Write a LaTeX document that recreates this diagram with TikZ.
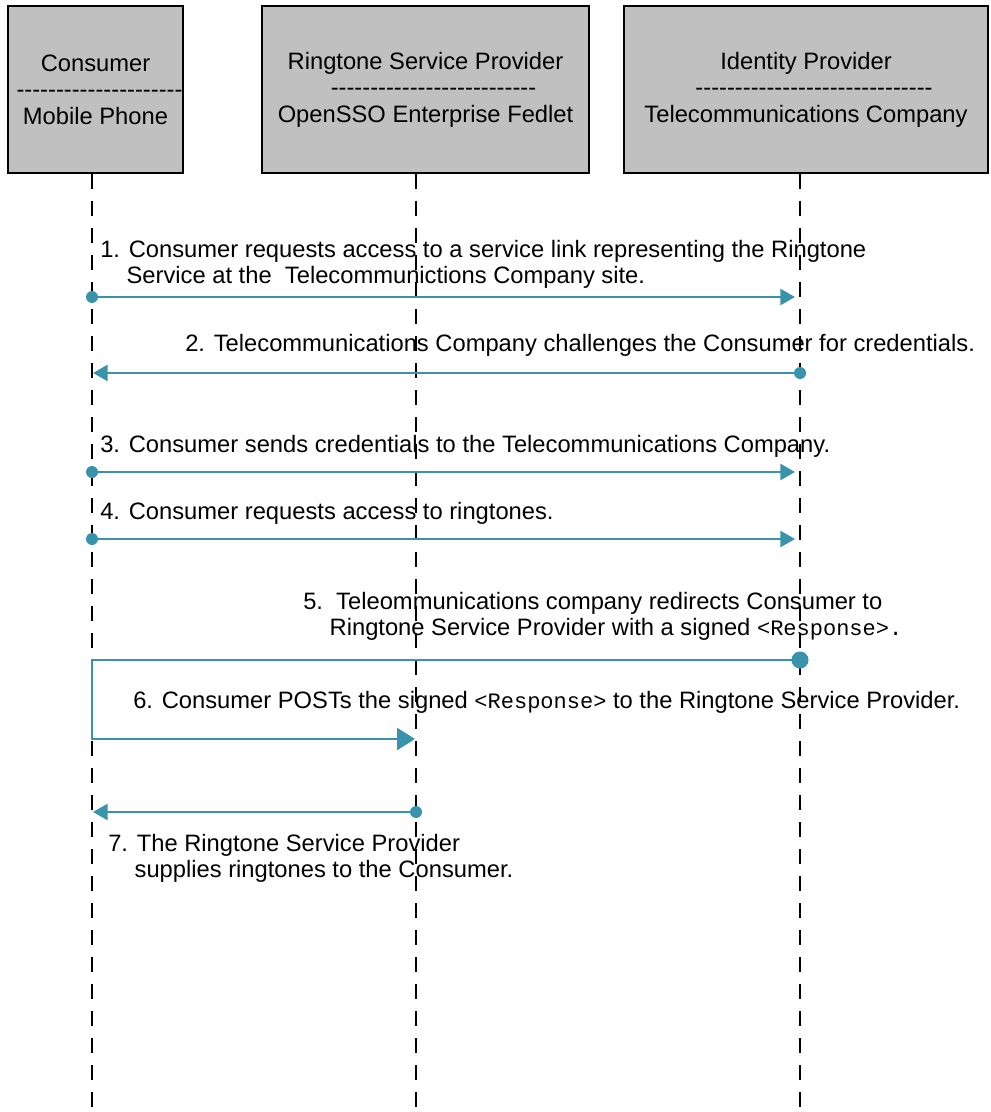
\documentclass[tikz,border=0pt]{standalone}
\usepackage{fontspec}
\setmainfont{Liberation Sans}
\setmonofont{Liberation Mono}
\usetikzlibrary{arrows.meta}
\definecolor{msgteal}{RGB}{57,147,173}
\definecolor{boxgray}{RGB}{192,192,192}
% a row of separate hyphens (no en-dash ligatures), shifted right by #2
\newcommand\sepline[2]{\makebox[0pt]{\hspace*{#2}\foreach \k in {1,...,#1}{-\kern0pt}}}
% message payload in typewriter
\newcommand\payload[1]{{\fontsize{16.5}{19.5}\selectfont\ttfamily #1}}

\begin{document}
\begin{tikzpicture}[x=0.75pt,y=-0.75pt,
  every node/.style={font=\fontsize{17.8}{19.5}\selectfont, inner sep=0pt},
  party/.style={draw=black, line width=1.5pt, fill=boxgray, align=center,
    font=\fontsize{17.8}{19.9}\selectfont, minimum height=125.25pt},
  lifeline/.style={black, line width=1.5pt, dash pattern=on 11.25pt off 9pt},
  msg/.style={msgteal, line width=2pt},
  headarrow/.style={-{Triangle[length=11pt,width=12pt]}},
  bigheadarrow/.style={-{Triangle[length=13.5pt,width=16.5pt]}},
  lbl/.style={anchor=base west, align=left},
  mlbl/.style={anchor=north west, align=left},
]
\useasboundingbox (0,0) rectangle (990,1112);

% participants
\node[party, minimum width=131.25pt] (cons) at (95.5,89.5)
  {Consumer\\\sepline{21}{6pt}\\Mobile Phone};
\node[party, minimum width=245.25pt] (rsp) at (425.5,89.5)
  {Ringtone Service Provider\\\sepline{26}{12pt}\\OpenSSO Enterprise Fedlet};
\node[party, minimum width=273pt] (idp) at (806,89.5)
  {Identity Provider\\\sepline{30}{12pt}\\Telecommunications Company};

% lifelines
\coordinate (consEnd) at (92,1112);
\coordinate (rspEnd) at (416,1112);
\coordinate (idpEnd) at (800,1112);
\draw[lifeline] (cons.south -| consEnd) -- (consEnd);
\draw[lifeline] (rsp.south -| rspEnd) -- (rspEnd);
\draw[lifeline] (idp.south -| idpEnd) -- (idpEnd);

% message end points
\coordinate (m1a) at (92,297);  \coordinate (m1b) at (795,297);
\coordinate (m2a) at (800,373); \coordinate (m2b) at (93,373);
\coordinate (m3a) at (92,472);  \coordinate (m3b) at (795,472);
\coordinate (m4a) at (92,539);  \coordinate (m4b) at (795,539);
\coordinate (m5a) at (800,660); \coordinate (m5c) at (92,739);
\coordinate (m6b) at (415,739);
\coordinate (m7a) at (416,812); \coordinate (m7b) at (93,812);

% messages
\draw[msg, headarrow] (m1a) -- (m1b);
\fill[msgteal] (m1a) circle[radius=4.5pt];
\draw[msg, headarrow] (m2a) -- (m2b);
\fill[msgteal] (m2a) circle[radius=4.5pt];
\draw[msg, headarrow] (m3a) -- (m3b);
\fill[msgteal] (m3a) circle[radius=4.5pt];
\draw[msg, headarrow] (m4a) -- (m4b);
\fill[msgteal] (m4a) circle[radius=4.5pt];
\draw[msg, bigheadarrow, line join=miter] (m5a) -| (m5c) -- (m6b);
\fill[msgteal] (m5a) circle[radius=6.4pt];
\draw[msg, headarrow] (m7a) -- (m7b);
\fill[msgteal] (m7a) circle[radius=4.5pt];

% message labels
\node[mlbl] (l1) at (100,240)
  {1. Consumer requests access to a service link representing the Ringtone\\
   \hphantom{1.\ }Service at the\ \ Telecommunictions Company site.};
\node[lbl] (l2) at (185,351)
  {2. Telecommunications Company challenges the Consumer for credentials.};
\node[lbl] (l3) at (100,452)
  {3. Consumer sends credentials to the Telecommunications Company.};
\node[lbl] (l4) at (100,519)
  {4. Consumer requests access to ringtones.};
\node[mlbl] (l5) at (303,592)
  {5.\ \ Teleommunications company redirects Consumer to\\
   \hphantom{5.\ }Ringtone Service Provider with a signed \payload{<Response>.}};
\node[lbl] (l6) at (133,708)
  {6. Consumer POSTs the signed \payload{<Response>}\ to the Ringtone Service Provider.};
\node[mlbl] (l7) at (108,834)
  {7. The Ringtone Service Provider\\
   \hphantom{7.\ }supplies ringtones to the Consumer.};
\end{tikzpicture}
\end{document}
